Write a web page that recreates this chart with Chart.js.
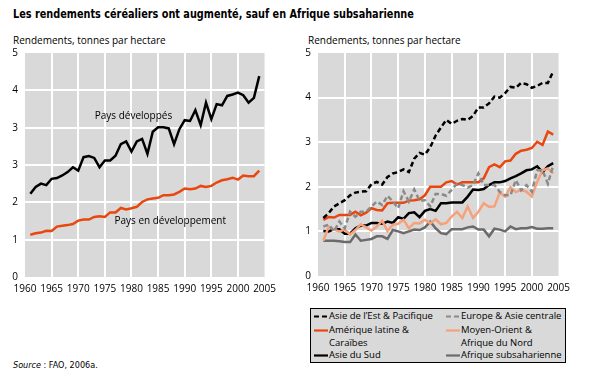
<!DOCTYPE html>
<html>
<head>
<meta charset="utf-8">
<script src="https://cdn.jsdelivr.net/npm/chart.js@4.4.1/dist/chart.umd.min.js"></script>
<style>
  body { margin: 0; width: 589px; height: 382px; background: #fff; position: relative; overflow: hidden; font-family: "Open Sans", sans-serif; color: #000; }
  .title { position: absolute; left: 13px; top: 7px; font-family: "Liberation Sans Narrow", "DejaVu Sans Condensed", sans-serif; font-weight: bold; font-size: 12px; white-space: nowrap; transform: scaleX(0.9); transform-origin: left top; }
  .ytitle { position: absolute; top: 33px; font-size: 10px; white-space: nowrap; }
  .box { position: absolute; }
  .legend { position: absolute; left: 310px; top: 308px; width: 256px; height: 55px; background: #d9d9d9; border: 1px solid #000; box-sizing: border-box; font-size: 9.5px; }
  .item { position: absolute; line-height: 12.5px; white-space: nowrap; }
  .item svg { position: absolute; left: -15px; top: 5px; }
  .source { position: absolute; left: 13px; top: 360px; font-family: "Liberation Sans Narrow", "DejaVu Sans Condensed", sans-serif; font-size: 9px; }
</style>
</head>
<body>
<div class="title">Les rendements céréaliers ont augmenté, sauf en Afrique subsaharienne</div>
<div class="ytitle" style="left:13px">Rendements, tonnes par hectare</div>
<div class="ytitle" style="left:308px">Rendements, tonnes par hectare</div>

<div class="box" style="left:0px;top:40px;width:282px;height:261px"><canvas id="left"></canvas></div>
<div class="box" style="left:295px;top:40px;width:281px;height:260px"><canvas id="right"></canvas></div>

<div class="legend" id="legend"></div>
<div class="source"><i>Source</i> : FAO, 2006a.</div>

<script>
// années
const years = [1961, 1962, 1963, 1964, 1965, 1966, 1967, 1968, 1969, 1970,
  1971, 1972, 1973, 1974, 1975, 1976, 1977, 1978, 1979, 1980,
  1981, 1982, 1983, 1984, 1985, 1986, 1987, 1988, 1989, 1990,
  1991, 1992, 1993, 1994, 1995, 1996, 1997, 1998, 1999, 2000,
  2001, 2002, 2003, 2004];

// graphique de gauche (échelle telle qu'imprimée)
const leftTickLabels = ["0", "1", "2", "3", "3", "4", "5"];
const paysDeveloppes = [2.23, 2.41, 2.50, 2.46, 2.63, 2.65, 2.72, 2.81, 2.94, 2.85,
  3.21, 3.24, 3.19, 2.94, 3.12, 3.12, 3.25, 3.56, 3.63, 3.36,
  3.63, 3.70, 3.30, 3.89, 4.01, 4.01, 3.98, 3.56, 3.96, 4.20,
  4.18, 4.47, 4.07, 4.67, 4.23, 4.63, 4.60, 4.85, 4.89, 4.94,
  4.87, 4.67, 4.80, 5.38];
const paysEnDeveloppement = [1.13, 1.17, 1.19, 1.24, 1.23, 1.35, 1.37, 1.39, 1.42, 1.51,
  1.54, 1.54, 1.61, 1.63, 1.61, 1.73, 1.73, 1.85, 1.81, 1.84,
  1.88, 2.01, 2.08, 2.10, 2.12, 2.19, 2.19, 2.21, 2.28, 2.37,
  2.35, 2.37, 2.44, 2.41, 2.44, 2.53, 2.59, 2.62, 2.66, 2.61,
  2.72, 2.70, 2.70, 2.85];

// graphique de droite : régions
const asieEst = [1.30, 1.41, 1.56, 1.63, 1.70, 1.81, 1.87, 1.89, 1.90, 2.06,
  2.11, 2.05, 2.22, 2.30, 2.33, 2.39, 2.33, 2.63, 2.76, 2.72,
  2.89, 3.15, 3.33, 3.50, 3.41, 3.48, 3.52, 3.50, 3.59, 3.78,
  3.78, 3.87, 4.02, 4.00, 4.10, 4.24, 4.22, 4.33, 4.30, 4.22,
  4.26, 4.33, 4.33, 4.59];
const europeAsieCentrale = [1.11, 1.15, 1.00, 1.22, 1.07, 1.44, 1.33, 1.44, 1.44, 1.56,
  1.67, 1.59, 1.80, 1.67, 1.52, 1.90, 1.67, 1.94, 1.69, 1.70,
  1.56, 1.84, 1.84, 1.80, 1.93, 2.07, 2.04, 1.98, 2.04, 2.30,
  2.04, 2.04, 2.04, 1.89, 1.81, 1.81, 2.15, 1.92, 2.04, 1.89,
  2.37, 2.37, 2.07, 2.48];
const ameriqueLatine = [1.26, 1.32, 1.31, 1.37, 1.37, 1.37, 1.44, 1.36, 1.42, 1.52,
  1.48, 1.47, 1.63, 1.64, 1.64, 1.64, 1.69, 1.70, 1.72, 1.81,
  2.00, 2.00, 2.00, 2.10, 2.13, 2.05, 2.10, 2.10, 2.10, 2.10,
  2.19, 2.44, 2.50, 2.44, 2.57, 2.59, 2.74, 2.81, 2.83, 2.87,
  3.01, 2.94, 3.24, 3.17];
const moyenOrient = [0.79, 1.11, 1.04, 1.00, 1.04, 0.93, 1.03, 1.16, 1.09, 1.02,
  1.11, 1.24, 1.01, 1.15, 1.17, 1.26, 1.07, 1.19, 1.18, 1.26,
  1.18, 1.27, 1.16, 1.19, 1.33, 1.44, 1.30, 1.56, 1.30, 1.44,
  1.63, 1.55, 1.56, 1.87, 1.78, 1.99, 1.88, 1.93, 1.89, 1.78,
  2.11, 2.37, 2.41, 2.30];
const asieSud = [1.01, 1.00, 1.05, 1.05, 0.95, 0.95, 1.07, 1.13, 1.13, 1.19,
  1.19, 1.17, 1.22, 1.19, 1.32, 1.28, 1.41, 1.43, 1.32, 1.46,
  1.50, 1.46, 1.63, 1.63, 1.65, 1.65, 1.65, 1.78, 1.94, 1.93,
  1.95, 2.04, 2.10, 2.10, 2.13, 2.19, 2.24, 2.30, 2.37, 2.39,
  2.46, 2.33, 2.46, 2.53];
const afriqueSub = [0.79, 0.79, 0.79, 0.78, 0.76, 0.76, 0.93, 0.79, 0.81, 0.83,
  0.89, 0.89, 0.83, 1.03, 1.00, 0.96, 1.00, 1.04, 1.03, 1.09,
  1.22, 1.07, 0.96, 0.94, 1.05, 1.05, 1.05, 1.09, 1.11, 1.04,
  1.04, 0.89, 1.06, 1.04, 1.00, 1.11, 1.05, 1.07, 1.07, 1.10,
  1.06, 1.06, 1.07, 1.07];

const ORANGE = "#e8470f";
const SAUMON = "#f5a27c";

// séries de droite : ordre de la légende (colonne gauche puis droite, ligne par ligne)
const regions = [
  { label: "Asie de l\u2019Est & Pacifique", data: asieEst, color: "#000000", dash: [5, 3] },
  { label: "Europe & Asie centrale", data: europeAsieCentrale, color: "#8a8a8a", dash: [5, 3] },
  { label: "Amérique latine & Caraïbes", data: ameriqueLatine, color: ORANGE, dash: [] },
  { label: "Moyen-Orient & Afrique du Nord", data: moyenOrient, color: SAUMON, dash: [] },
  { label: "Asie du Sud", data: asieSud, color: "#000000", dash: [] },
  { label: "Afrique subsaharienne", data: afriqueSub, color: "#6b6b6b", dash: [] }
];

function toPoints(values) {
  return years.map((y, i) => ({ x: y, y: values[i] }));
}

// 🔹 fond gris de la zone du graphique
const plotBackground = {
  id: "plotBackground",
  beforeDraw(chart) {
    const { ctx, chartArea: a } = chart;
    ctx.save();
    ctx.fillStyle = "#d9d9d9";
    ctx.fillRect(a.left, a.top, a.right - a.left, a.bottom - a.top);
    ctx.restore();
  }
};

// 🔹 étiquettes dans le graphique de gauche
const seriesLabels = {
  id: "seriesLabels",
  afterDatasetsDraw(chart, args, opts) {
    if (!opts.items) return;
    const { ctx, scales } = chart;
    ctx.save();
    ctx.font = "10px 'Open Sans', sans-serif";
    ctx.fillStyle = "#000";
    ctx.textAlign = "left";
    ctx.textBaseline = "middle";
    for (const it of opts.items) {
      ctx.fillText(it.text, scales.x.getPixelForValue(it.x), scales.y.getPixelForValue(it.y));
    }
    ctx.restore();
  }
};

function gridColor(max) {
  return (c) => (c.tick.value <= c.scale.min || c.tick.value >= max) ? "rgba(0,0,0,0)" : "#ffffff";
}

function makeOptions(yMax, yLabels, padLeft, items) {
  return {
    responsive: true,
    maintainAspectRatio: false,
    animation: false,
    layout: { padding: { left: padLeft, top: 13, right: 14, bottom: 0 } },
    elements: { point: { radius: 0 }, line: { tension: 0, borderWidth: 2.5 } },
    plugins: {
      legend: { display: false },
      tooltip: { enabled: false },
      seriesLabels: { items: items }
    },
    scales: {
      x: {
        type: "linear",
        min: 1960,
        max: 2005,
        border: { display: false },
        grid: { color: gridColor(2005), lineWidth: 2, drawTicks: false },
        ticks: {
          stepSize: 5,
          padding: 6,
          color: "#000",
          maxRotation: 0,
          autoSkip: false,
          font: { family: "'Open Sans', sans-serif", size: 10 },
          callback: (v) => String(v)
        }
      },
      y: {
        min: 0,
        max: yMax,
        border: { display: false },
        grid: { color: gridColor(yMax), lineWidth: 2, drawTicks: false },
        // largeur assez grande pour que les libellés ne soient pas rognés
        afterFit: (scale) => { scale.width = 22; },
        ticks: {
          stepSize: 1,
          padding: 7,
          color: "#000",
          autoSkip: false,
          font: { family: "'Open Sans', sans-serif", size: 10 },
          callback: (v) => yLabels[Math.round(v)]
        }
      }
    }
  };
}

new Chart(document.getElementById("left"), {
  type: "line",
  data: {
    datasets: [
      { label: "Pays développés", data: toPoints(paysDeveloppes), borderColor: "#000000" },
      { label: "Pays en développement", data: toPoints(paysEnDeveloppement), borderColor: ORANGE }
    ]
  },
  options: makeOptions(6, leftTickLabels, 3, [
    { text: "Pays développés", x: 1973.1, y: 4.30 },
    { text: "Pays en développement", x: 1976.8, y: 1.49 }
  ]),
  plugins: [plotBackground, seriesLabels]
});

const rightTickLabels = ["0", "1", "2", "3", "4", "5"];

new Chart(document.getElementById("right"), {
  type: "line",
  data: {
    datasets: regions.map((r) => ({
      label: r.label,
      data: toPoints(r.data),
      borderColor: r.color,
      borderDash: r.dash
    }))
  },
  options: makeOptions(5, rightTickLabels, 1, []),
  plugins: [plotBackground, seriesLabels]
});

// 🔹 légende HTML (deux colonnes)
const legendRows = [
  ["Asie de l\u2019Est & Pacifique", "Europe & Asie centrale"],
  ["Amérique latine &<br>Caraïbes", "Moyen-Orient &<br>Afrique du Nord"],
  ["Asie du Sud", "Afrique subsaharienne"]
];
const legendTops = [1, 15, 40];
const legendLefts = [18, 150];
const legend = document.getElementById("legend");
legendRows.forEach((row, r) => {
  row.forEach((text, c) => {
    const reg = regions[r * 2 + c];
    const div = document.createElement("div");
    div.className = "item";
    div.style.left = legendLefts[c] + "px";
    div.style.top = legendTops[r] + "px";
    div.innerHTML = text +
      `<svg width="14" height="3"><line x1="0" y1="1.5" x2="14" y2="1.5" stroke="${reg.color}" stroke-width="2.2" stroke-dasharray="${reg.dash.join(" ")}"/></svg>`;
    legend.appendChild(div);
  });
});
</script>
</body>
</html>
